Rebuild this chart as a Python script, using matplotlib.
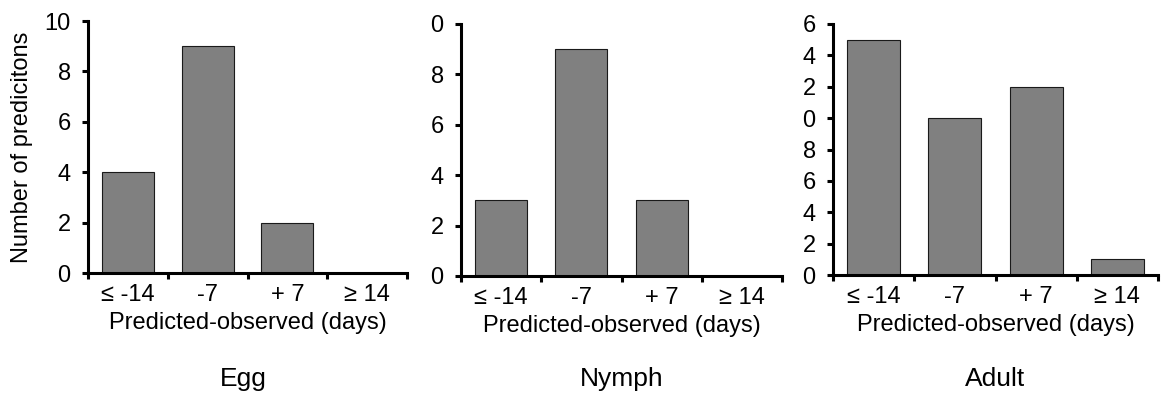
import matplotlib
matplotlib.use("Agg")
import matplotlib.pyplot as plt

plt.rcParams['font.family'] = ['Liberation Sans', 'DejaVu Sans']

categories = ['≤ -14', '-7', '+ 7', '≥ 14']
stages = ['Egg', 'Nymph', 'Adult']
egg_counts = [4, 9, 2, 0]
nymph_counts = [3, 9, 3, 0]
adult_counts = [15, 10, 12, 1]

# y tick labels as printed in the source (leading digits clipped off)
egg_yticks = [0, 2, 4, 6, 8, 10]
egg_ylabels = ['0', '2', '4', '6', '8', '10']
nymph_yticks = [0, 2, 4, 6, 8, 10]
nymph_ylabels = ['0', '2', '4', '6', '8', '0']
adult_yticks = [0, 2, 4, 6, 8, 10, 12, 14, 16]
adult_ylabels = ['0', '2', '4', '6', '8', '0', '2', '4', '6']

W, H = 1164, 400
fig = plt.figure(figsize=(W / 100, H / 100), dpi=100)

# axes boxes in pixels: left, right, top, bottom
boxes = [(88, 407, 21, 273), (461, 782, 24, 276), (833, 1158, 24, 275)]
title_x = [243, 622, 995]
panels = [
    (egg_counts, egg_yticks, egg_ylabels),
    (nymph_counts, nymph_yticks, nymph_ylabels),
    (adult_counts, adult_yticks, adult_ylabels),
]

fs = 17
for i, (counts, yt, yl) in enumerate(panels):
    l, r, t, b = boxes[i]
    ax = fig.add_axes([l / W, 1 - b / H, (r - l) / W, (b - t) / H])
    x = [k + 0.5 for k in range(len(categories))]
    ax.bar(x, counts, width=0.65, color='#808080', edgecolor='#1a1a1a', linewidth=0.8)
    ax.set_xlim(0, len(categories))
    ax.set_ylim(0, yt[-1])
    ax.set_yticks(yt)
    ax.set_yticklabels(yl, fontsize=fs)
    ax.set_xticks(range(len(categories) + 1))
    ax.set_xticklabels([])
    ax.set_xticks(x, minor=True)
    ax.set_xticklabels(categories, minor=True, fontsize=fs)
    ax.tick_params(axis='x', which='major', direction='out', length=4, width=2.2)
    ax.tick_params(axis='x', which='minor', length=0, pad=8)
    ax.tick_params(axis='y', direction='out', length=4.5, width=2.2, pad=8)
    for s in ['top', 'right']:
        ax.spines[s].set_visible(False)
    for s in ['left', 'bottom']:
        ax.spines[s].set_linewidth(2.2)
    ax.set_xlabel('Predicted-observed (days)', fontsize=fs, labelpad=4)
    if i == 0:
        ax.set_ylabel('Number of predicitons', fontsize=fs, labelpad=8)
    fig.text(title_x[i] / W, 1 - 379 / H, stages[i], fontsize=19, ha='center', va='center')

fig.savefig('out.png', dpi=100)
